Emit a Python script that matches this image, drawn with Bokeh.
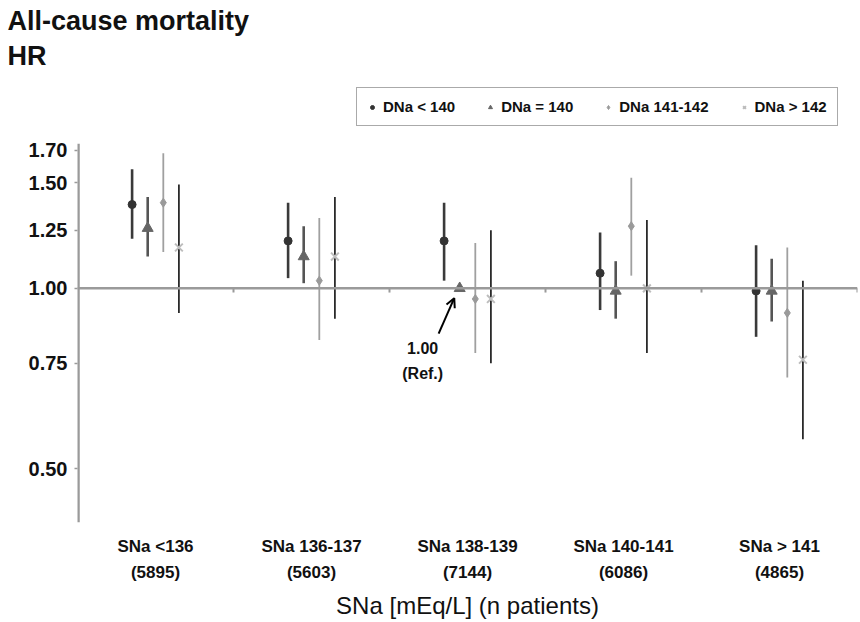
from bokeh.plotting import figure
from bokeh.models import (FixedTicker, NumeralTickFormatter, Span, Label, Legend,
                          LegendItem, Arrow, OpenHead, Range1d, Title)
from bokeh.embed import file_html
from bokeh.resources import INLINE
import numpy as np

# ---------------- data ----------------
sna_groups = ["SNa <136", "SNa 136-137", "SNa 138-139", "SNa 140-141", "SNa > 141"]
n_patients = ["5895", "5603", "7144", "6086", "4865"]
series_names = ["DNa < 140", "DNa = 140", "DNa 141-142", "DNa > 142"]

hr_lt140 = [1.38, 1.20, 1.20, 1.06, 0.99]
lo_lt140 = [1.21, 1.04, 1.03, 0.92, 0.83]
hi_lt140 = [1.58, 1.39, 1.39, 1.24, 1.18]

hr_eq140 = [1.26, 1.13, 1.00, 0.99, 0.99]
lo_eq140 = [1.13, 1.02, np.nan, 0.89, 0.88]
hi_eq140 = [1.42, 1.27, np.nan, 1.11, 1.12]

hr_141_142 = [1.39, 1.03, 0.96, 1.27, 0.91]
lo_141_142 = [1.15, 0.82, 0.78, 1.05, 0.71]
hi_141_142 = [1.68, 1.31, 1.19, 1.53, 1.17]

hr_gt142 = [1.17, 1.13, 0.96, 1.00, 0.76]
lo_gt142 = [0.91, 0.89, 0.75, 0.78, 0.56]
hi_gt142 = [1.49, 1.42, 1.25, 1.30, 1.03]

y_ticks = [0.50, 0.75, 1.00, 1.25, 1.50, 1.70]
y_axis_min, y_axis_max = 0.4066, 1.744   # extent of the drawn HR axis
ref_group = 2  # SNa 138-139, DNa = 140 is the reference

# ---------------- figure ----------------
# frame reaches up to the legend row; the HR axis line itself stops at y_axis_max
p = figure(width=860, height=622, output_backend="svg", toolbar_location=None,
           y_axis_type="log", x_range=Range1d(0, 5), y_range=Range1d(y_axis_min, 2.31),
           min_border_left=77, min_border_right=3, min_border_top=0, min_border_bottom=100)
p.outline_line_color = None
p.xgrid.visible = False
p.ygrid.visible = False
p.background_fill_color = "white"

centers = np.arange(len(sna_groups)) + 0.5
offsets = [-0.15, -0.05, 0.05, 0.15]

# vertical HR axis line
p.segment(x0=[0], y0=[y_axis_min], x1=[0], y1=[y_axis_max], line_color="#9a9a9a", line_width=4.5)

# horizontal reference axis at HR = 1
p.add_layout(Span(location=1.0, dimension="width", line_color="#9a9a9a", line_width=2.5))
bounds = np.arange(1, len(sna_groups) + 1)
p.segment(x0=bounds, y0=[1.0] * len(bounds), x1=bounds, y1=[0.984] * len(bounds),
          line_color="#9a9a9a", line_width=2)

specs = [
    (hr_lt140, lo_lt140, hi_lt140, dict(marker="circle", size=8, fill_color="#333333", line_color="#333333"), "#3a3a3a", 2.6),
    (hr_eq140, lo_eq140, hi_eq140, dict(marker="triangle", size=11, fill_color="#666666", line_color="#666666"), "#555555", 2.6),
    (hr_141_142, lo_141_142, hi_141_142, dict(marker="diamond", size=9, fill_color="#9a9a9a", line_color="#9a9a9a"), "#a0a0a0", 1.8),
    (hr_gt142, lo_gt142, hi_gt142, dict(marker="x", size=11, line_color="#bdbdbd", line_width=2), "#2a2a2a", 1.8),
]

items = []
for k, (hr, lo, hi, mk, lc, lw) in enumerate(specs):
    xs = centers + offsets[k]
    p.segment(x0=xs, y0=lo, x1=xs, y1=hi, line_color=lc, line_width=lw)
    r = p.scatter(x=xs, y=hr, **mk)
    items.append(LegendItem(label=series_names[k], renderers=[r]))

# ---------------- axes ----------------
yax = p.yaxis[0]
yax.ticker = FixedTicker(ticks=y_ticks)
yax.formatter = NumeralTickFormatter(format="0.00")
yax.axis_line_color = None
yax.major_tick_line_color = "#9a9a9a"
yax.major_tick_line_width = 1.5
yax.major_tick_in = 0
yax.major_tick_out = 3
yax.minor_tick_line_color = None
yax.major_label_text_font = "Liberation Sans"
yax.major_label_text_font_style = "bold"
yax.major_label_text_font_size = "20px"
yax.major_label_text_color = "#111111"
yax.major_label_standoff = 7

xax = p.xaxis[0]
xax.ticker = FixedTicker(ticks=list(centers))
xax.major_label_overrides = {float(c): f"{g}\n({n})" for c, g, n in zip(centers, sna_groups, n_patients)}
xax.axis_line_color = None
xax.major_tick_line_color = None
xax.minor_tick_line_color = None
xax.major_tick_in = 0
xax.major_tick_out = 0
xax.major_label_text_font = "Liberation Sans"
xax.major_label_text_font_style = "bold"
xax.major_label_text_font_size = "17px"
xax.major_label_text_line_height = 1.41
xax.major_label_text_color = "#111111"
xax.major_label_standoff = 14
xax.axis_label = "SNa [mEq/L] (n patients)"
xax.axis_label_text_font = "Liberation Sans"
xax.axis_label_text_font_style = "normal"
xax.axis_label_text_font_size = "24px"
xax.axis_label_text_color = "#111111"
xax.axis_label_standoff = 7

# ---------------- legend (inside the tall frame, above the HR axis) ----------------
legend = Legend(items=items, orientation="horizontal", location=(279, 396),
                label_text_font="Liberation Sans", label_text_font_style="bold",
                label_text_font_size="15px", label_text_color="#111111",
                glyph_width=10, glyph_height=12, label_standoff=6, spacing=30,
                padding=10, margin=0, border_line_color="#555555", border_line_width=1.5,
                background_fill_color="white", background_fill_alpha=1.0)
p.add_layout(legend, "center")

# ---------------- titles ----------------
p.add_layout(Title(text="HR", align="left", offset=-70, standoff=0,
                   text_font="Liberation Sans", text_font_style="bold",
                   text_font_size="27px", text_color="#111111"), "above")
p.add_layout(Title(text="All-cause mortality", align="left", offset=-70, standoff=6,
                   text_font="Liberation Sans", text_font_style="bold",
                   text_font_size="27px", text_color="#111111"), "above")

# ---------------- reference annotation ----------------
ref_x = centers[ref_group] + offsets[1]
p.add_layout(Label(x=ref_x, y=1.0, x_offset=-37, y_offset=-52, text="1.00\n(Ref.)",
                   text_align="center", text_baseline="top", text_font="Liberation Sans",
                   text_font_style="bold", text_font_size="16px", text_line_height=1.45,
                   text_color="#111111"))
p.add_layout(Arrow(x_start=ref_x - 0.135, y_start=0.84, x_end=ref_x - 0.035, y_end=0.963,
                   line_color="black", line_width=2,
                   end=OpenHead(size=9, line_color="black", line_width=2)))

open("out.html", "w").write(file_html(p, INLINE))
